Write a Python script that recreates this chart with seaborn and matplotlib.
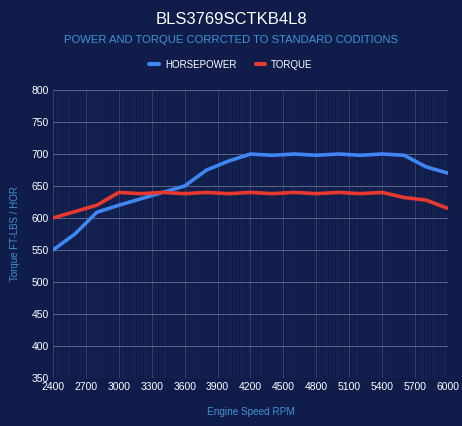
import numpy as np
import pandas as pd
import seaborn as sns
import matplotlib.pyplot as plt
from matplotlib.lines import Line2D
from matplotlib.ticker import MultipleLocator

# values
rpm = [2400, 2600, 2800, 3000, 3200, 3400, 3600, 3800, 4000, 4200, 4400,
       4600, 4800, 5000, 5200, 5400, 5600, 5800, 6000]
horsepower = [550, 575, 609, 620, 630, 640, 650, 675, 689, 700, 698,
              700, 698, 700, 698, 700, 698, 680, 670]
torque = [600, 610, 620, 640, 638, 640, 638, 640, 638, 640, 638,
          640, 638, 640, 638, 640, 632, 628, 615]
x_ticks = list(range(2400, 6001, 300))

BG = '#101d4b'
HP_COL = '#3f86f2'
TQ_COL = '#e8392f'
LABEL_COL = '#3f93d6'

df = pd.DataFrame({
    'rpm': rpm * 2,
    'value': horsepower + torque,
    'series': ['HORSEPOWER'] * len(rpm) + ['TORQUE'] * len(rpm),
})

sns.set_theme(style='dark')
plt.rcParams['font.family'] = ['Liberation Sans', 'DejaVu Sans']

fig = plt.figure(figsize=(4.62, 4.26), dpi=100, facecolor=BG)
ax = fig.add_axes([0.1147, 0.1127, 0.855, 0.676])
ax.set_facecolor(BG)

sns.lineplot(data=df, x='rpm', y='value', hue='series',
             palette={'HORSEPOWER': HP_COL, 'TORQUE': TQ_COL},
             linewidth=2.6, legend=False, ax=ax, zorder=5)

ax.set_xlim(2400, 6000)
ax.set_ylim(350, 800)
ax.set_xticks(x_ticks)
ax.set_xticklabels([str(t) for t in x_ticks])
ax.yaxis.set_major_locator(MultipleLocator(50))
ax.xaxis.set_minor_locator(MultipleLocator(25))

ax.grid(which='major', axis='y', color='#8a93b5', alpha=0.6, linewidth=0.7)
ax.grid(which='major', axis='x', color='#8a93b5', alpha=0.3, linewidth=0.7)
ax.grid(which='minor', axis='x', color='#8a93b5', alpha=0.07, linewidth=0.6)
ax.tick_params(which='both', length=0, colors='white', labelsize=7.5, pad=3)
for s in ax.spines.values():
    s.set_visible(False)

ax.set_xlabel('Engine Speed RPM', color=LABEL_COL, fontsize=7.2, labelpad=11)
ax.set_ylabel('Torque FT-LBS / HOR', color=LABEL_COL, fontsize=7, labelpad=8)

fig.text(0.5, 0.955, 'BLS3769SCTKB4L8', color='white', fontsize=12,
         ha='center', va='center')
fig.text(0.5, 0.905, 'POWER AND TORQUE CORRCTED TO STANDARD CODITIONS',
         color=LABEL_COL, fontsize=8.1, ha='center', va='center')

handles = [Line2D([0], [0], color=HP_COL, lw=3),
           Line2D([0], [0], color=TQ_COL, lw=3)]
leg = fig.legend(handles, ['HORSEPOWER', 'TORQUE'], loc='center',
                 bbox_to_anchor=(0.5, 0.848), ncol=2, frameon=False,
                 fontsize=7, handlelength=1.0, columnspacing=2.0,
                 handletextpad=0.6)
for t in leg.get_texts():
    t.set_color('white')

fig.savefig('out.png', dpi=100, facecolor=BG)
